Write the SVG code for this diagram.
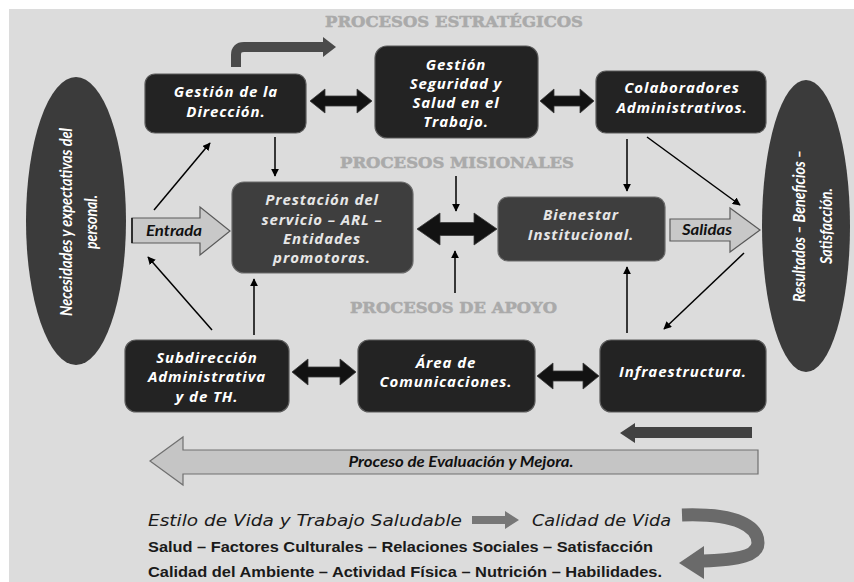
<svg xmlns="http://www.w3.org/2000/svg" width="854" height="582" viewBox="0 0 854 582">
<defs>
<style>
.bg{fill:#dcdcdc}
.dark{fill:#232323;stroke:#5a5a5a;stroke-width:1.2}
.mid{fill:#3e3e3e;stroke:#6a6a6a;stroke-width:1.2}
.ell{fill:#3b3b3b}
.nt{font-family:"Open Sans",Lato,sans-serif;font-style:italic;font-weight:bold;font-size:15px;letter-spacing:0.9px;fill:#ffffff;text-anchor:middle}
.nt2{fill:#e6e6e6}
.et{font-family:Lato,"Open Sans",sans-serif;font-style:italic;font-weight:bold;font-size:17px;fill:#ffffff;text-anchor:middle}
.ttl{font-family:"DejaVu Serif",serif;font-weight:bold;font-size:15px;fill:#aaaaaa;stroke:#aaaaaa;stroke-width:0.5;text-anchor:start}
.lbl{font-family:Lato,"Open Sans",sans-serif;font-style:italic;font-weight:bold;font-size:15px;fill:#111}
.dbl{fill:#121212;stroke:#3a3a3a;stroke-width:0.8}
.blk{fill:#c8c8c8;stroke:#5a5a5a;stroke-width:1.2}
.thin{stroke:#000;stroke-width:1.5;fill:none;marker-end:url(#ah)}
.bt1{font-family:"DejaVu Sans",Verdana,sans-serif;font-style:italic;font-size:15px;fill:#1a1a1a}
.bt2{font-family:"Liberation Sans",Arial,sans-serif;font-weight:bold;font-size:15px;fill:#1a1a1a}
</style>
<marker id="ah" markerWidth="8" markerHeight="8" viewBox="0 0 10 10" refX="9" refY="5" orient="auto" markerUnits="userSpaceOnUse">
<path d="M0,0 L10,5 L0,10 z" fill="#000"/>
</marker>
</defs>
<rect class="bg" x="9" y="9" width="845" height="573"/>

<text class="ttl" x="325" y="27" textLength="258" lengthAdjust="spacingAndGlyphs">PROCESOS ESTRATÉGICOS</text>
<text class="ttl" x="340" y="168" textLength="234" lengthAdjust="spacingAndGlyphs">PROCESOS MISIONALES</text>
<text class="ttl" x="350" y="313" textLength="207" lengthAdjust="spacingAndGlyphs">PROCESOS DE APOYO</text>

<g id="connectors">
<path d="M236,67 L236,55 Q236,47 244,47 L324,47" stroke="#4a4a4a" stroke-width="10" fill="none"/>
<polygon points="323,37 336,47 323,57" fill="#4a4a4a"/>
<polygon class="dbl" points="310,101 325,89 325,96 357,96 357,89 372,101 357,113 357,106 325,106 325,113"/>
<polygon class="dbl" points="540,101 554,89 554,96 580,96 580,89 594,101 580,113 580,106 554,106 554,113"/>
<polygon class="dbl" points="417,229 440,213 440,222.5 474,222.5 474,213 497,229 474,245 474,235.5 440,235.5 440,245"/>
<polygon class="dbl" points="292,372 308,359 308,367 340,367 340,359 356,372 340,385 340,377 308,377 308,385"/>
<polygon class="dbl" points="537,376 553,363 553,371 583,371 583,363 599,376 583,389 583,381 553,381 553,389"/>
<line class="thin" x1="154" y1="210" x2="210" y2="143"/>
<line class="thin" x1="275" y1="137" x2="275" y2="176"/>
<line class="thin" x1="212" y1="330" x2="148" y2="257"/>
<line class="thin" x1="254" y1="335" x2="254" y2="279"/>
<line class="thin" x1="456" y1="176" x2="456" y2="211"/>
<line class="thin" x1="455" y1="293" x2="455" y2="251"/>
<line class="thin" x1="627" y1="139" x2="627" y2="191"/>
<line class="thin" x1="647" y1="137" x2="740" y2="205"/>
<line class="thin" x1="744" y1="253" x2="664" y2="329"/>
<line class="thin" x1="627" y1="333" x2="627" y2="267"/>
<polygon points="620,433 635,423 635,427 752,427 752,438 635,438 635,443" fill="#414141"/>
</g>

<g id="entrada">
<polygon class="blk" points="132,218 200,218 200,207 230,231 200,255 200,243 132,243"/>
<line x1="132" y1="218" x2="132" y2="243" stroke="#111" stroke-width="1.5"/>
<text class="lbl" x="174" y="236" text-anchor="middle" textLength="56" lengthAdjust="spacingAndGlyphs">Entrada</text>
</g>
<g id="salidas">
<polygon class="blk" points="670,219 730,219 730,208 760,230 730,252 730,241 670,241"/>
<text class="lbl" x="707" y="235" text-anchor="middle" textLength="50" lengthAdjust="spacingAndGlyphs">Salidas</text>
</g>

<g id="necesidades">
<ellipse class="ell" cx="76" cy="221" rx="50" ry="144"/>
<g transform="translate(72,222) rotate(-90)"><text class="et" x="0" y="0" textLength="188" lengthAdjust="spacingAndGlyphs">Necesidades y expectativas del</text></g>
<g transform="translate(97,222) rotate(-90)"><text class="et" x="0" y="0" textLength="54" lengthAdjust="spacingAndGlyphs">personal.</text></g>
</g>
<g id="resultados">
<ellipse class="ell" cx="806" cy="226" rx="44" ry="146"/>
<g transform="translate(805,226) rotate(-90)"><text class="et" x="0" y="0" textLength="152" lengthAdjust="spacingAndGlyphs">Resultados – Beneficios –</text></g>
<g transform="translate(832,226) rotate(-90)"><text class="et" x="0" y="0" textLength="76" lengthAdjust="spacingAndGlyphs">Satisfacción.</text></g>
</g>

<g id="gestion-direccion">
<rect class="dark" x="145" y="74" width="161" height="59" rx="10"/>
<text class="nt" x="226" y="97">Gestión de la</text>
<text class="nt" x="226" y="117">Dirección.</text>
</g>
<g id="gsst">
<rect class="dark" x="375" y="46" width="163" height="92" rx="12"/>
<text class="nt" x="456" y="70">Gestión</text>
<text class="nt" x="456" y="89">Seguridad y</text>
<text class="nt" x="456" y="108">Salud en el</text>
<text class="nt" x="456" y="127">Trabajo.</text>
</g>
<g id="colaboradores">
<rect class="dark" x="596" y="71" width="170" height="62" rx="10"/>
<text class="nt" x="682" y="93">Colaboradores</text>
<text class="nt" x="682" y="113">Administrativos.</text>
</g>
<g id="prestacion">
<rect class="mid" x="232" y="182" width="181" height="91" rx="12"/>
<text class="nt nt2" x="322" y="205">Prestación del</text>
<text class="nt nt2" x="322" y="225">servicio – ARL –</text>
<text class="nt nt2" x="322" y="244">Entidades</text>
<text class="nt nt2" x="322" y="263">promotoras.</text>
</g>
<g id="bienestar">
<rect class="mid" x="498" y="197" width="167" height="64" rx="10"/>
<text class="nt nt2" x="581" y="220">Bienestar</text>
<text class="nt nt2" x="581" y="240">Institucional.</text>
</g>
<g id="subdireccion">
<rect class="dark" x="125" y="340" width="164" height="72" rx="11"/>
<text class="nt" x="207" y="363">Subdirección</text>
<text class="nt" x="207" y="382">Administrativa</text>
<text class="nt" x="207" y="402">y de TH.</text>
</g>
<g id="comunicaciones">
<rect class="dark" x="358" y="340" width="177" height="72" rx="11"/>
<text class="nt" x="446" y="368">Área de</text>
<text class="nt" x="446" y="387">Comunicaciones.</text>
</g>
<g id="infraestructura">
<rect class="dark" x="600" y="340" width="166" height="72" rx="11"/>
<text class="nt" x="683" y="377">Infraestructura.</text>
</g>

<g id="evaluacion">
<polygon points="150,461 183,437 183,450 758,450 758,474 183,474 183,485" fill="#c5c5c5" stroke="#707070" stroke-width="1.2"/>
<text class="lbl" x="461" y="467" text-anchor="middle" textLength="225" lengthAdjust="spacingAndGlyphs">Proceso de Evaluación y Mejora.</text>
</g>

<g id="estilo">
<text class="bt1" x="148" y="526" textLength="314" lengthAdjust="spacingAndGlyphs">Estilo de Vida y Trabajo Saludable</text>
<polygon points="472,516 505,516 505,511 519,520 505,529 505,524 472,524" fill="#777"/>
<text class="bt1" x="532" y="526" textLength="139" lengthAdjust="spacingAndGlyphs">Calidad de Vida</text>
<text class="bt2" x="148" y="552" textLength="505" lengthAdjust="spacingAndGlyphs">Salud – Factores Culturales – Relaciones Sociales – Satisfacción</text>
<text class="bt2" x="148" y="577" textLength="514" lengthAdjust="spacingAndGlyphs">Calidad del Ambiente – Actividad Física – Nutrición – Habilidades.</text>
<path d="M682,515 C738,513 758,527 758,543 C758,555 740,560 703,561" stroke="#6a6a6a" stroke-width="13" fill="none"/>
<polygon points="679,563 704,546 704,579" fill="#6a6a6a"/>
</g>
</svg>
